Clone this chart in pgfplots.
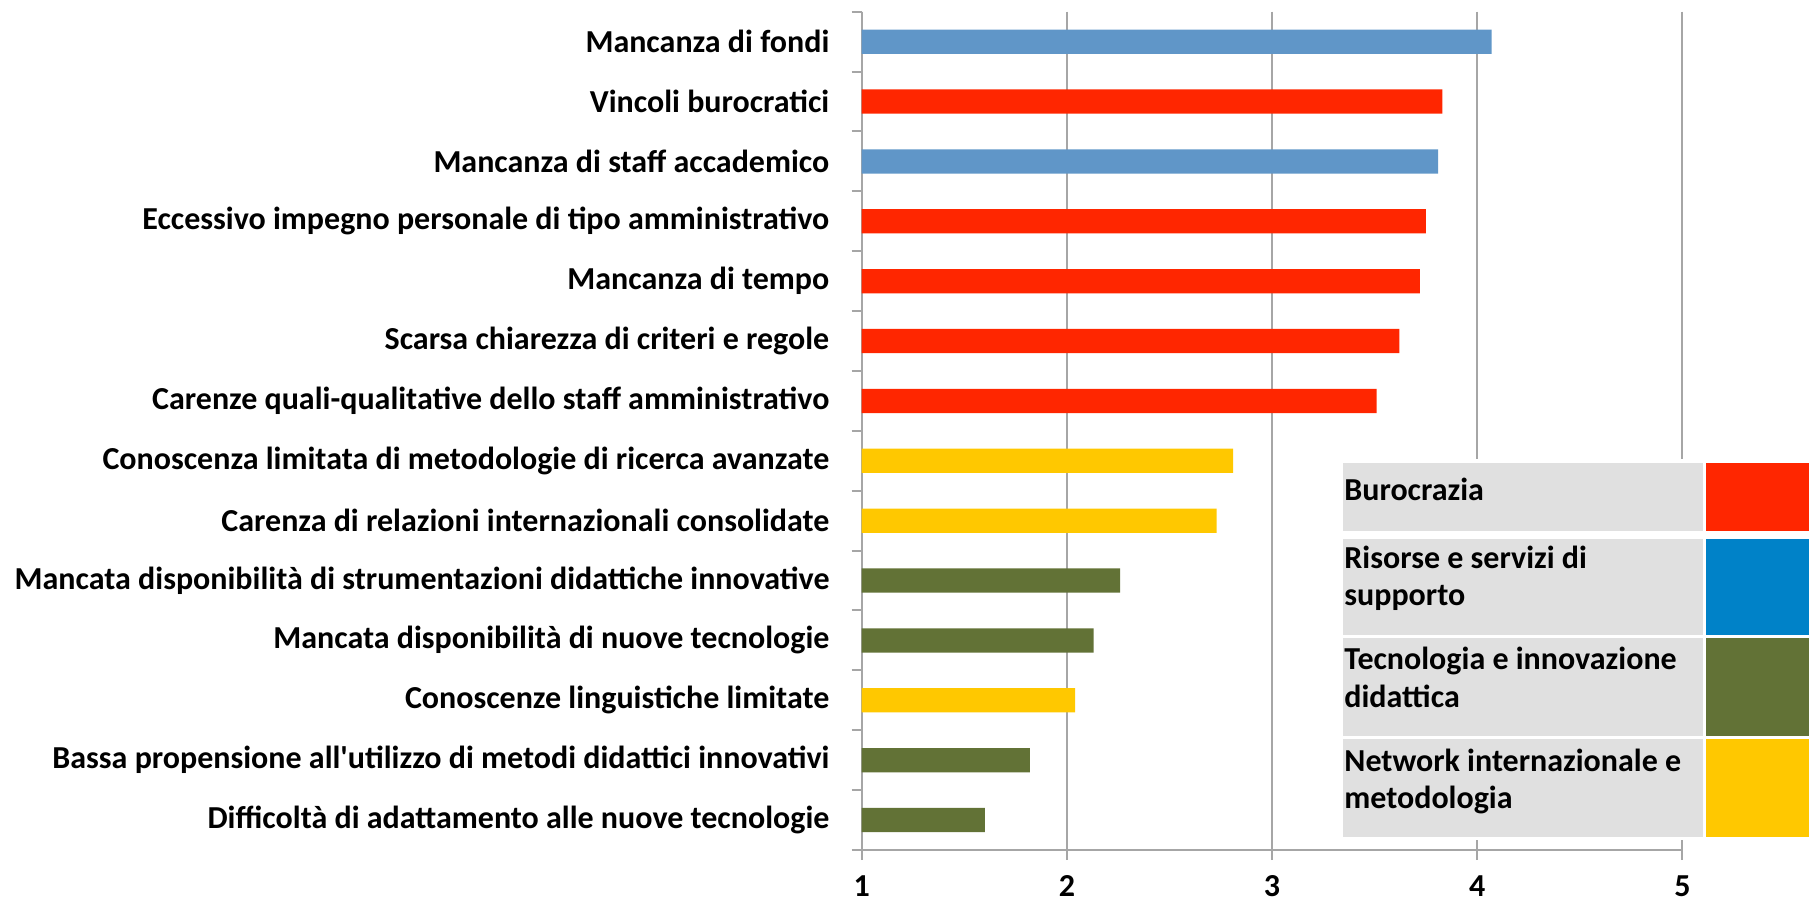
\documentclass[border=0pt]{standalone}
\usepackage{pgfplots}
\pgfplotsset{compat=1.18}
\usepackage{fontspec}
\setmainfont{Carlito}

\definecolor{burored}{RGB}{255,38,0}
\definecolor{barblue}{RGB}{96,150,200}
\definecolor{legblue}{RGB}{0,130,200}
\definecolor{tecgreen}{RGB}{98,114,54}
\definecolor{netyellow}{RGB}{255,200,0}
\definecolor{cellgray}{RGB}{224,224,224}
\definecolor{linegray}{RGB}{166,166,166}

\begin{document}
\begin{tikzpicture}[font=\bfseries\fontsize{16}{19}\selectfont]
\useasboundingbox (0,0) rectangle (904.5pt,452pt);
\begin{axis}[
    at={(430.85pt,27pt)}, anchor=south west,
    scale only axis,
    width=410.35pt, height=419.15pt,
    xmin=1, xmax=5,
    ymin=-0.5, ymax=13.5,
    y dir=reverse,
    axis x line*=bottom,
    axis y line*=left,
    axis line style={draw=linegray, line width=1pt},
    every tick/.style={draw=linegray, line width=1pt},
    tick align=outside,
    major tick length=5pt,
    xtick={1,2,3,4,5},
    xmajorgrids,
    grid style={draw=linegray, line width=1pt},
    /pgf/number format/assume math mode=true,
    xticklabel style={inner sep=0pt, yshift=-7.5pt},
    ytick={-0.5,0.5,...,13.5},
    yticklabels={},
    extra y ticks={0,1,2,3,4,5,6,7,8,9,10,11,12,13},
    extra y tick labels={
        Mancanza di fondi,
        Vincoli burocratici,
        Mancanza di staff accademico,
        Eccessivo impegno personale di tipo amministrativo,
        Mancanza di tempo,
        Scarsa chiarezza di criteri e regole,
        Carenze quali-qualitative dello staff amministrativo,
        Conoscenza limitata di metodologie di ricerca avanzate,
        Carenza di relazioni internazionali consolidate,
        Mancata disponibilità di strumentazioni didattiche innovative,
        Mancata disponibilità di nuove tecnologie,
        Conoscenze linguistiche limitate,
        Bassa propensione all\textquotesingle utilizzo di metodi didattici innovativi,
        Difficoltà di adattamento alle nuove tecnologie},
    extra y tick style={major tick length=0pt, grid=none,
        yticklabel style={inner sep=0pt, xshift=-16pt}},
    xbar,
    bar width=0.405,
]
% Burocrazia
\addplot[fill=burored, draw=none, bar shift=0pt] coordinates {
    (3.83,1) (3.75,3) (3.72,4) (3.62,5) (3.51,6)
};
% Risorse e servizi di supporto
\addplot[fill=barblue, draw=none, bar shift=0pt] coordinates {
    (4.07,0) (3.81,2)
};
% Network internazionale e metodologia
\addplot[fill=netyellow, draw=none, bar shift=0pt] coordinates {
    (2.81,7) (2.73,8) (2.04,11)
};
% Tecnologia e innovazione didattica
\addplot[fill=tecgreen, draw=none, bar shift=0pt] coordinates {
    (2.26,9) (2.13,10) (1.82,12) (1.60,13)
};
\end{axis}
% legend box, in pixel units from the top left
\begin{scope}[x=0.5pt, y=-0.5pt, shift={(0,452pt)}]
\fill[white] (1339,459) rectangle (1809,840);
\fill[cellgray] (1342.7,462.7) rectangle (1702.7,530.7);
\fill[cellgray] (1342.7,539) rectangle (1702.7,634.7);
\fill[cellgray] (1342.7,638) rectangle (1702.7,736);
\fill[cellgray] (1342.7,739.3) rectangle (1702.7,837.3);
\fill[burored] (1705.7,462.7) rectangle (1809,530.7);
\fill[legblue] (1705.7,539) rectangle (1809,634.7);
\fill[tecgreen] (1705.7,638) rectangle (1809,736);
\fill[netyellow] (1705.7,739.3) rectangle (1809,837.3);
\node[anchor=base west, inner sep=0pt] at (1344,500.7) {Burocrazia};
\node[anchor=base west, inner sep=0pt] at (1344,569) {Risorse e servizi di};
\node[anchor=base west, inner sep=0pt] at (1344,605.7) {supporto};
\node[anchor=base west, inner sep=0pt] at (1344,670) {Tecnologia e innovazione};
\node[anchor=base west, inner sep=0pt] at (1344,707.7) {didattica};
\node[anchor=base west, inner sep=0pt] at (1344,771.7) {Network internazionale e};
\node[anchor=base west, inner sep=0pt] at (1344,809) {metodologia};
\end{scope}
\end{tikzpicture}
\end{document}
